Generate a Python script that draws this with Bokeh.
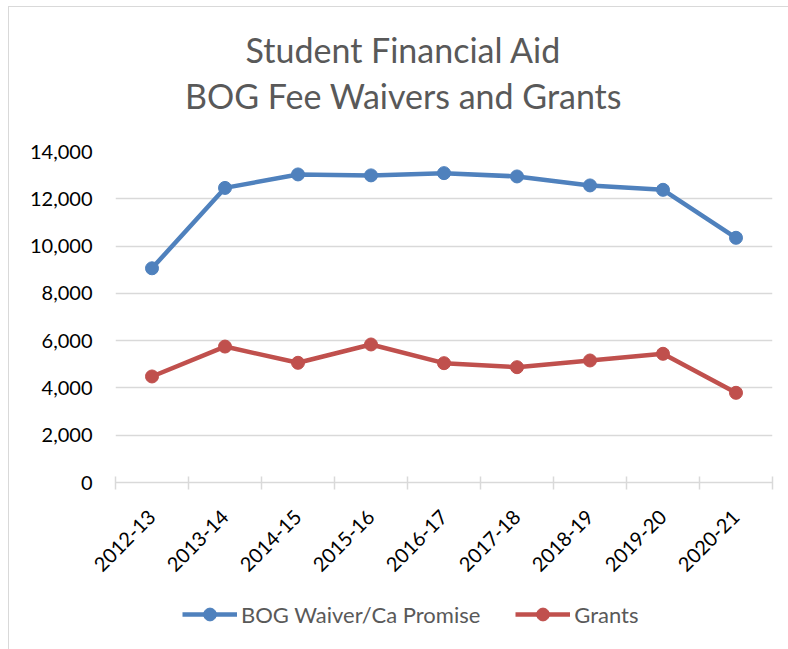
import math
from bokeh.plotting import figure
from bokeh.layouts import column
from bokeh.models import (Range1d, FixedTicker, Label, Legend, LegendItem,
                          ColumnDataSource, NumeralTickFormatter)
from bokeh.embed import file_html
from bokeh.resources import INLINE

# ---- data ----
categories = ["2012-13", "2013-14", "2014-15", "2015-16", "2016-17",
              "2017-18", "2018-19", "2019-20", "2020-21"]
bog_waiver = [9060, 12460, 13030, 12990, 13085, 12945, 12565, 12380, 10350]
grants = [4485, 5750, 5063, 5838, 5047, 4877, 5161, 5444, 3794]
y_ticks = [0, 2000, 4000, 6000, 8000, 10000, 12000, 14000]
title_lines = ["Student Financial Aid", "BOG Fee Waivers and Grants"]
series_names = ["BOG Waiver/Ca Promise", "Grants"]

BLUE = "#4F81BD"
RED = "#C0504D"
GRID = "#D9D9D9"
TXT = "#595959"
FONT = "Lato"
W = 788
H_TITLE, H_MAIN, H_LEG = 125, 455, 69
FRAME_L, FRAME_R = 115, 772   # page x of the plot frame (frames align in a column)


def bare(fig):
    fig.outline_line_color = None
    fig.background_fill_alpha = 0
    fig.border_fill_alpha = 0
    return fig


# ---- title strip (x in page pixels, y measured from top) ----
pt = bare(figure(width=W, height=H_TITLE, output_backend="svg", toolbar_location=None,
                 x_range=Range1d(FRAME_L, FRAME_R), y_range=Range1d(H_TITLE, 0),
                 x_axis_location=None, y_axis_location=None, title=None,
                 min_border=0))
pt.grid.visible = False
for txt, yb in zip(title_lines, [49, 95]):
    pt.add_layout(Label(x=403, y=yb, text=txt, text_align="center",
                        text_baseline="alphabetic", text_font=FONT,
                        text_font_size="34px", text_color=TXT))

# ---- main chart ----
xpos = [i + 0.5 for i in range(len(categories))]
src = ColumnDataSource(dict(x=xpos, bog=bog_waiver, grants=grants))

p = figure(width=W, height=H_MAIN, output_backend="svg", toolbar_location=None,
           x_range=Range1d(0, len(categories)), y_range=Range1d(0, 14000),
           min_border_left=FRAME_L, min_border_right=W - FRAME_R, min_border_top=26,
           min_border_bottom=98, title=None)
bare(p)
p.background_fill_color = "white"
p.background_fill_alpha = 1

p.xgrid.grid_line_color = None
p.ygrid.grid_line_color = GRID
p.ygrid.grid_line_width = 1.5
p.ygrid.ticker = FixedTicker(ticks=y_ticks)

p.yaxis.ticker = FixedTicker(ticks=y_ticks)
p.yaxis.formatter = NumeralTickFormatter(format="0,0")
p.yaxis.axis_line_color = None
p.yaxis.major_tick_line_color = None
p.yaxis.minor_tick_line_color = None
p.yaxis.major_tick_in = 0
p.yaxis.major_tick_out = 0
p.yaxis.major_label_standoff = 23
p.yaxis.major_label_text_font = FONT
p.yaxis.major_label_text_font_size = "20px"
p.yaxis.major_label_text_color = "black"

p.xaxis.ticker = FixedTicker(ticks=xpos, minor_ticks=list(range(len(categories) + 1)))
p.xaxis.major_label_overrides = {x: c for x, c in zip(xpos, categories)}
p.xaxis.axis_line_color = GRID
p.xaxis.axis_line_width = 1.5
p.xaxis.major_tick_line_color = None
p.xaxis.major_tick_in = 0
p.xaxis.major_tick_out = 0
p.xaxis.minor_tick_line_color = GRID
p.xaxis.minor_tick_line_width = 1.5
p.xaxis.minor_tick_in = 6
p.xaxis.minor_tick_out = 7
p.xaxis.major_label_orientation = math.pi / 4
p.xaxis.major_label_standoff = 24
p.xaxis.major_label_text_font = FONT
p.xaxis.major_label_text_font_size = "20px"
p.xaxis.major_label_text_color = "black"

p.line("x", "bog", source=src, line_color=BLUE, line_width=4.5)
p.scatter("x", "bog", source=src, marker="circle", size=13,
          fill_color=BLUE, line_color=BLUE)
p.line("x", "grants", source=src, line_color=RED, line_width=4.5)
p.scatter("x", "grants", source=src, marker="circle", size=13,
          fill_color=RED, line_color=RED)

# ---- legend strip ----
pl = bare(figure(width=W, height=H_LEG, output_backend="svg", toolbar_location=None,
                 x_range=Range1d(FRAME_L, FRAME_R), y_range=Range1d(0, H_LEG),
                 x_axis_location=None, y_axis_location=None, title=None,
                 min_border=0))
pl.grid.visible = False
proxy = ColumnDataSource(dict(x=[float("nan")], y=[float("nan")]))
items = []
for name, col in zip(series_names, [BLUE, RED]):
    lr = pl.line("x", "y", source=proxy, line_color=col, line_width=4.5)
    sr = pl.scatter("x", "y", source=proxy, marker="circle", size=13,
                    fill_color=col, line_color=col)
    items.append(LegendItem(label=name, renderers=[lr, sr]))

legend = Legend(items=items, orientation="horizontal", location=(182 - FRAME_L, 19),
                glyph_width=55, glyph_height=32, label_standoff=4, spacing=35,
                padding=0, margin=0, border_line_color=None,
                background_fill_alpha=0,
                label_text_font=FONT, label_text_font_size="22px",
                label_text_color=TXT)
pl.add_layout(legend, "center")

layout = column(pt, p, pl, spacing=0, styles={
    "background": "linear-gradient(#d9d9d9, #d9d9d9) 8px 6px / 1px 100% no-repeat, "
                  "linear-gradient(#d9d9d9, #d9d9d9) 8px 6px / 100% 1px no-repeat, white"})

open("out.html", "w").write(file_html(layout, INLINE))
